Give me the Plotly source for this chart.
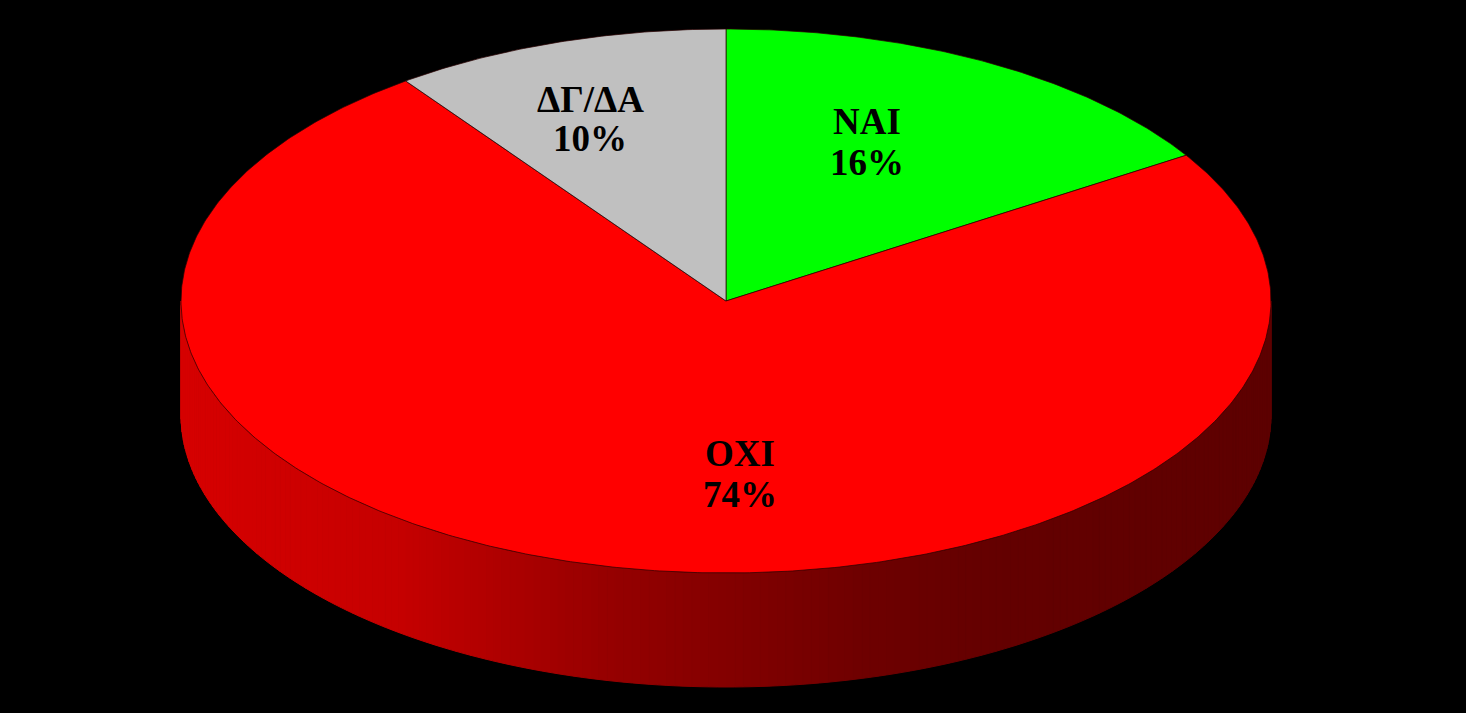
import numpy as np
import plotly.graph_objects as go

# ---- data ----
labels = ["NAI", "OXI", "ΔΓ/ΔΑ"]
values = [16, 74, 10]
colors = ["#00FF00", "#FF0000", "#C0C0C0"]

# ---- geometry / style ----
W, H = 1466, 713
cx, cy, a, b, depth = 726, 301, 545, 272, 114
# side shading (x position -> red level)
shade_x = [181, 400, 600, 700, 870, 1000, 1272]
shade_r = [215, 198, 152, 136, 110, 100, 94]
# label placement (x, y of name line, y of percent line)
label_pos = {"NAI": (867, 121, 162), "OXI": (740, 453, 494), "ΔΓ/ΔΑ": (590, 99, 138)}

def ex(t):
    return cx + a * np.sin(t)

def ey(t):
    return cy - b * np.cos(t)

total = float(sum(values))
fracs = [v / total for v in values]
starts = np.cumsum([0] + fracs[:-1]) * 2 * np.pi
ends = np.cumsum(fracs) * 2 * np.pi

fig = go.Figure()

# side (front half only is visible: theta from pi/2 to 3pi/2)
N = 200
ts = np.linspace(np.pi / 2, 3 * np.pi / 2, N + 1)
for i in range(N):
    t0, t1 = ts[i], ts[i + 1]
    tm = 0.5 * (t0 + t1)
    k = int(np.searchsorted(ends, tm))
    xm = ex(tm)
    r = int(np.interp(xm, shade_x, shade_r))
    base = colors[k]
    col = f"rgb({r},0,0)" if base == "#FF0000" else base
    xs = [ex(t0), ex(t1), ex(t1), ex(t0), ex(t0)]
    ys = [ey(t0), ey(t1), ey(t1) + depth, ey(t0) + depth, ey(t0)]
    fig.add_trace(go.Scatter(x=xs, y=ys, mode="lines", fill="toself",
                             fillcolor=col, line=dict(color=col, width=1),
                             hoverinfo="skip", showlegend=False))

# top face slices
for lab, s, e, col in zip(labels, starts, ends, colors):
    tt = np.linspace(s, e, max(int((e - s) / (2 * np.pi) * 720), 8))
    xs = np.concatenate([[cx], ex(tt), [cx]])
    ys = np.concatenate([[cy], ey(tt), [cy]])
    fig.add_trace(go.Scatter(x=xs, y=ys, mode="lines", fill="toself",
                             fillcolor=col, line=dict(color="rgba(40,0,0,0.9)", width=0.8),
                             hoverinfo="skip", showlegend=False))

# labels
font = dict(family="Liberation Serif, Times New Roman, serif", size=37, color="black")
for lab, v in zip(labels, values):
    x, y1, y2 = label_pos[lab]
    pct = f"{round(v / total * 100)}%"
    fig.add_annotation(x=x, y=y1, text=f"<b>{lab}</b>", showarrow=False,
                       font=font, xanchor="center", yanchor="middle")
    fig.add_annotation(x=x, y=y2, text=f"<b>{pct}</b>", showarrow=False,
                       font=font, xanchor="center", yanchor="middle")

fig.update_layout(
    width=W, height=H,
    margin=dict(l=0, r=0, t=0, b=0),
    paper_bgcolor="black", plot_bgcolor="black",
    xaxis=dict(range=[0, W], visible=False, fixedrange=True),
    yaxis=dict(range=[H, 0], visible=False, fixedrange=True),
    showlegend=False,
)

fig.write_html(
    "out.html",
    config={"displayModeBar": False},
    post_script="document.body.style.margin='0';document.body.style.padding='0';"
                "document.body.style.background='black';document.body.style.overflow='hidden';",
)
